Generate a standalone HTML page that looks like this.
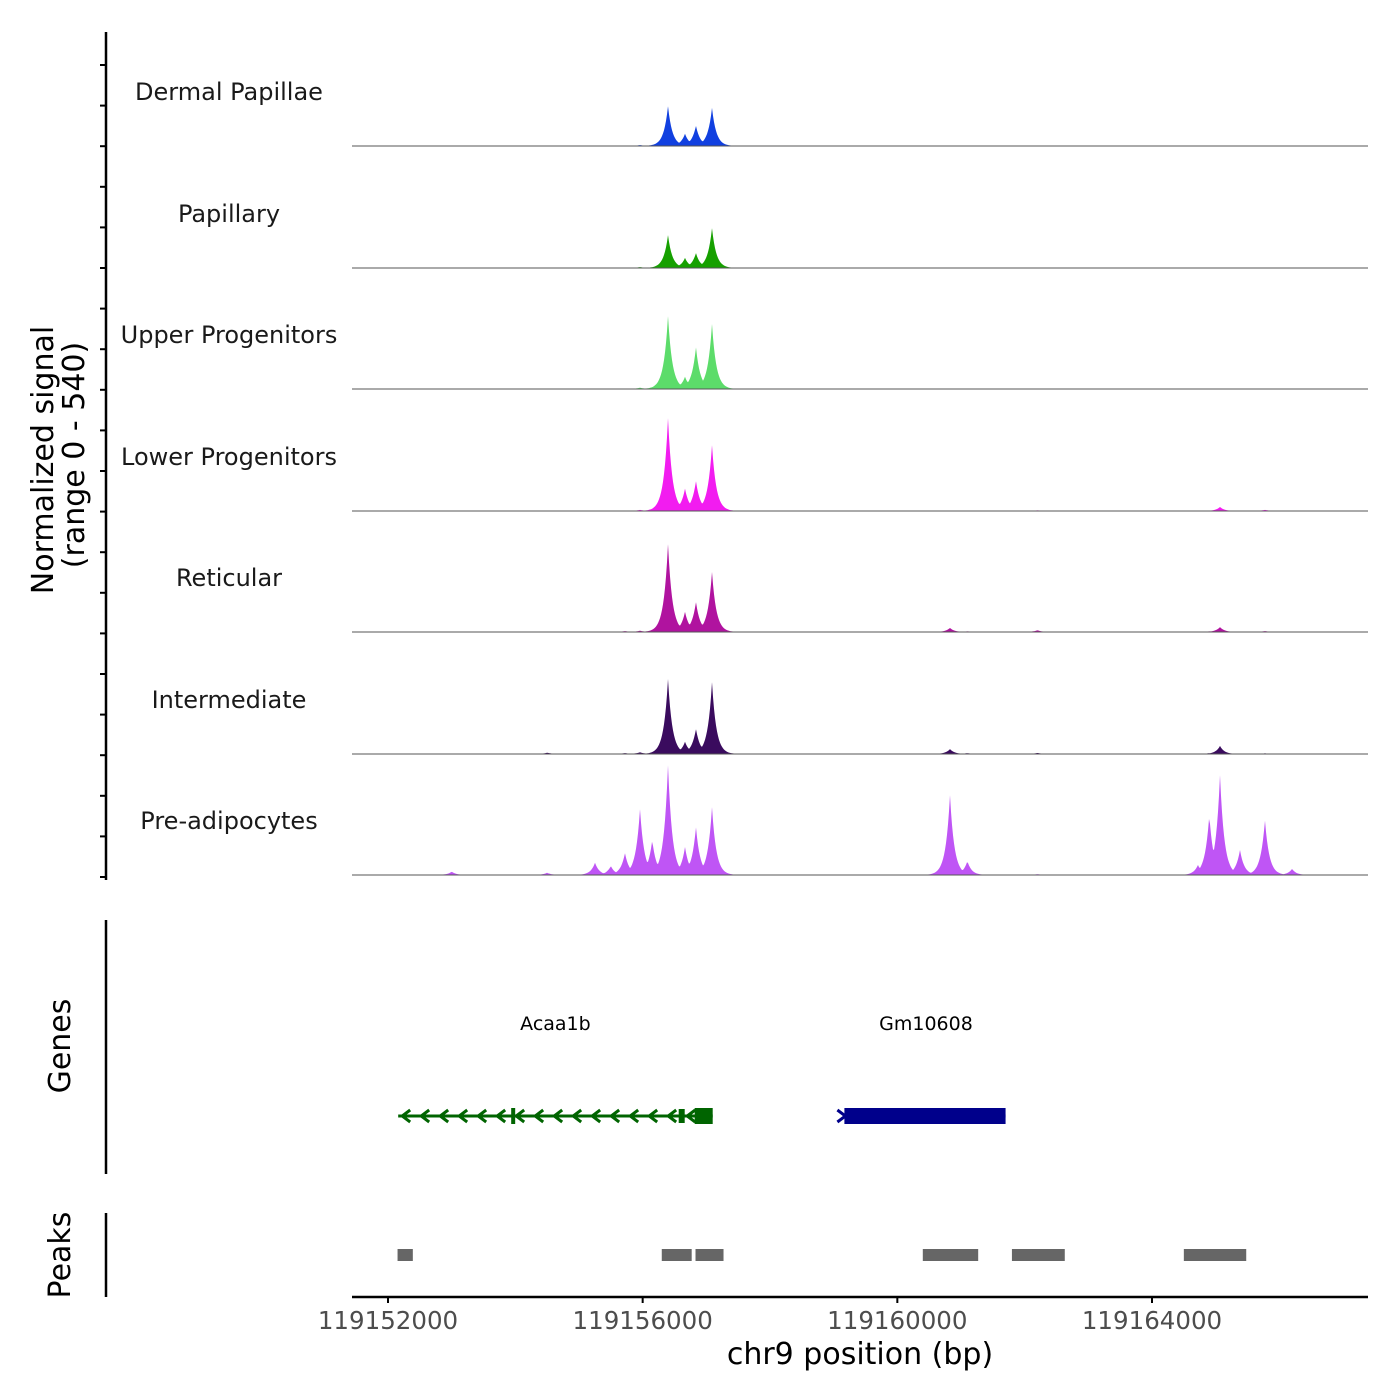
<!DOCTYPE html>
<html><head><meta charset="utf-8"><style>
html,body{margin:0;padding:0;background:#fff}
svg{display:block;font-family:"DejaVu Sans","Liberation Sans",sans-serif}
</style></head><body>
<svg id="chart" width="1400" height="1400" viewBox="0 0 1400 1400" xmlns="http://www.w3.org/2000/svg">
<g id="axes"></g>
<g id="tracks"></g>
<g id="genes"></g>
<g id="peaks"></g>
<text transform="translate(53,460) rotate(-90)" text-anchor="middle" font-size="30">Normalized signal</text>
<text transform="translate(84,455) rotate(-90)" text-anchor="middle" font-size="30">(range 0 - 540)</text>
<text transform="translate(70,1046) rotate(-90)" text-anchor="middle" font-size="30">Genes</text>
<text transform="translate(70,1255) rotate(-90)" text-anchor="middle" font-size="30">Peaks</text>
<text x="860" y="1364" text-anchor="middle" font-size="30">chr9 position (bp)</text>
</svg>
<script>
const trackNames = ["Dermal Papillae","Papillary","Upper Progenitors","Lower Progenitors","Reticular","Intermediate","Pre-adipocytes"];
const trackColors = ["#1140e0","#16a000","#5cdc6a","#f21cf0","#b0139f","#3a0b5e","#bf55f5"];
// peak centers (bp) for each track and their heights (signal units)
const peakPos = [119155958,119156150,119156398,119156665,119156837,119157089,119155251,119155722,119155500,119160827,119161100,119164722,119164900,119165068,119165382,119165774,119166200,119162200,119153000,119154500];
const dpVals   = [4,5,178,55,90,170,0,0,0,1,0,0,0,1,0,0,0,1,1,1];
const papVals  = [4,3,147,45,67,178,0,1,0,1,0,0,1,2,0,0,0,1,0,1];
const upVals   = [6,5,326,55,187,290,0,1,0,1,0,0,0,2,0,0,0,2,0,1];
const lowVals  = [5,6,415,100,134,294,1,2,1,1,0,1,2,18,0,5,0,3,1,1];
const retVals  = [6,5,393,90,134,268,1,4,1,18,3,1,3,22,0,4,0,8,1,2];
const intVals  = [8,6,335,55,112,321,2,4,2,22,4,2,4,36,0,3,0,5,1,6];
const preVals  = [294,156,490,125,214,303,55,98,40,357,62,45,268,446,112,245,27,4,15,10];
const trackVals = [dpVals,papVals,upVals,lowVals,retVals,intVals,preVals];
const xTicks = [119152000,119156000,119160000,119164000];
const geneNames = ["Acaa1b","Gm10608"];
const geneStart = [119152160,119159200];
const geneEnd = [119157100,119161700];
const geneStrand = [-1,1];
const peakStarts = [119152150,119156300,119156830,119160400,119161800,119164500];
const peakEnds = [119152390,119156770,119157270,119161270,119162630,119165480];

const NS="http://www.w3.org/2000/svg";
const X0=388, BP0=119152000, PXBP=764/12000;
const xs = bp => X0+(bp-BP0)*PXBP;
const baselines=[146,268,389,511,632,754,875];
const ys = v => v*121/540;
function mk(tag,attrs,parent){const e=document.createElementNS(NS,tag);for(const k in attrs)e.setAttribute(k,attrs[k]);parent.appendChild(e);return e;}
const axes=document.getElementById('axes');
let l=mk('line',{x1:106,y1:32,x2:106,y2:880,stroke:'#000','stroke-width':2.5},axes);


for(let y=65;y<=880;y+=40.6){let t=mk('line',{x1:100,y1:y,x2:106,y2:y,stroke:'#000','stroke-width':2},axes);

}
l=mk('line',{x1:106,y1:920,x2:106,y2:1174,stroke:'#000','stroke-width':2.5},axes);


l=mk('line',{x1:106,y1:1213,x2:106,y2:1297,stroke:'#000','stroke-width':2.5},axes);


l=mk('line',{x1:352,y1:1297,x2:1368,y2:1297,stroke:'#000','stroke-width':2.5},axes);


xTicks.forEach(t=>{
 let tk=mk('line',{x1:xs(t),y1:1297,x2:xs(t),y2:1303,stroke:'#000','stroke-width':2},axes);
 
 
 let tx=mk('text',{x:xs(t),y:1329,'text-anchor':'middle','font-size':24.5,fill:'#4d4d4d'},axes);
 tx.textContent=t;
 
 
});
const tracks=document.getElementById('tracks');
trackNames.forEach((name,i)=>{
 const g=mk('g',{},tracks);
 
 
 const base=baselines[i];
 let d='M352,'+base;
 for(let px=398;px<=1330;px+=1){
  const bp=BP0+(px-X0)/PXBP;
  let v=0;
  trackVals[i].forEach((h,k)=>{const dx=(bp-peakPos[k])/75;v=Math.max(v,h*Math.exp(-Math.abs(dx)*1.1));});
  d+=' L'+px+','+(base-ys(v)).toFixed(1);
 }
 d+=' L1368,'+base+' Z';
 const p=mk('path',{d:d,fill:trackColors[i],stroke:'none'},g);
 
 
 const bl=mk('line',{x1:352,y1:base,x2:1368,y2:base,stroke:'#555','stroke-width':1},g);
 
 
 const t=mk('text',{x:229,y:base-46,'text-anchor':'middle','font-size':24,fill:'#1a1a1a'},g);
 t.textContent=name;
 
 
});
const genes=document.getElementById('genes');
geneNames.forEach((n,i)=>{
 const g=mk('g',{},genes);
 
 
 const x1=xs(geneStart[i]),x2=xs(geneEnd[i]),y=1116;
 const col=i==0?'#006400':'#00008b';
 mk('line',{x1:x1,y1:y,x2:x2,y2:y,stroke:col,'stroke-width':3},g);
 if(geneStrand[i]<0){
  for(let x=x1+4;x<x2-20;x+=19){mk('path',{d:`M${x+8},${y-6} L${x},${y} L${x+8},${y+6}`,stroke:col,'stroke-width':3,fill:'none'},g);}
  mk('rect',{x:x2-18,y:y-8,width:18,height:16,fill:col},g);
  mk('rect',{x:x2-34,y:y-7,width:6,height:14,fill:col},g);
  mk('rect',{x:x1+113,y:y-8,width:4,height:16,fill:col},g);
 } else {
  mk('rect',{x:x1-2,y:y-8,width:x2-x1+2,height:16,fill:col},g);
  mk('path',{d:`M${x1-9},${y-6} L${x1-1},${y} L${x1-9},${y+6}`,stroke:col,'stroke-width':3,fill:'none'},g);
 }
 const t=mk('text',{x:(x1+x2)/2,y:1030,'text-anchor':'middle','font-size':19,fill:'#000'},g);
 t.textContent=n;
 
 
});
const peaks=document.getElementById('peaks');
peakStarts.forEach((s,i)=>{
 const r=mk('rect',{x:xs(s),y:1249,width:xs(peakEnds[i])-xs(s),height:12,fill:'#666'},peaks);
 
 
});
</script>
</body></html>
